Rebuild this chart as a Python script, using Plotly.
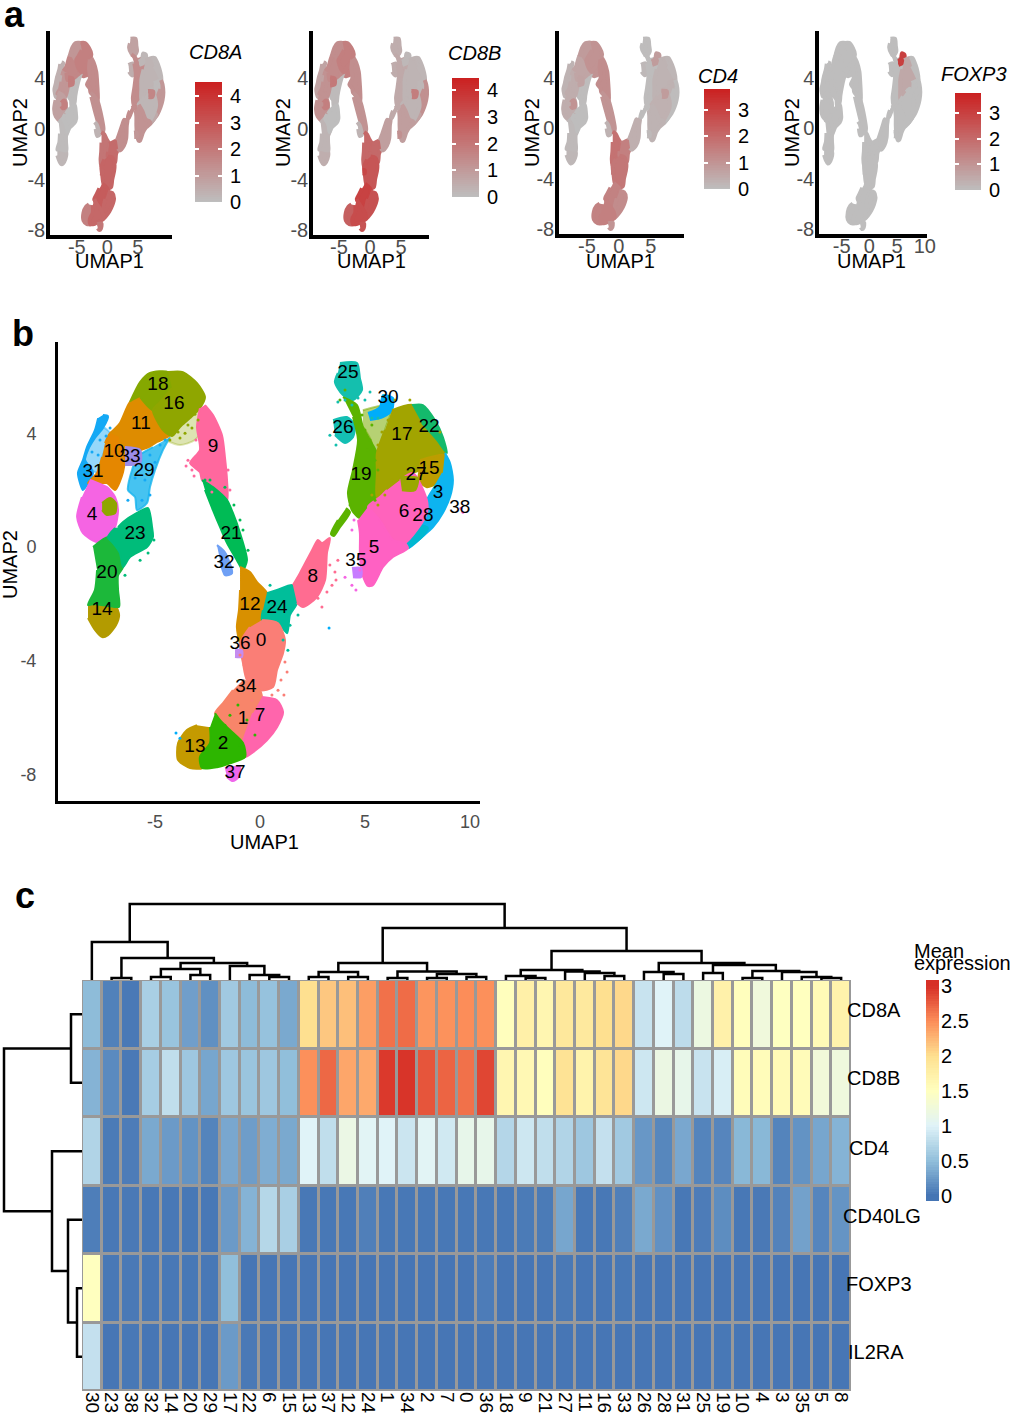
#!/usr/bin/env python
# -*- coding: utf-8 -*-

"""T cell clusters: feature plots, cluster map and mean expression heatmap."""

import numpy as np
import plotly.graph_objects as go

W = 1014
H = 1415
FONT = "Liberation Sans"
TICK_GREY = "#4D4D4D"

# heatmap
col_labels = ["30", "23", "38", "32", "14", "20", "29", "17", "22", "6", "15", "13", "37",
              "12", "24", "1", "34", "2", "7", "0", "36", "18", "9", "21", "27", "11", "16",
              "33", "26", "28", "31", "25", "19", "10", "4", "3", "35", "5", "8"]
row_labels = ["CD8A", "CD8B", "CD4", "CD40LG", "FOXP3", "IL2RA"]
cd8a = [0.48, 0.08, 0.03, 0.65, 0.55, 0.28, 0.18, 0.60, 0.48, 0.53, 0.35, 2.00, 2.15,
        2.20, 2.40, 2.65, 2.68, 2.45, 2.47, 2.50, 2.48, 1.52, 1.75, 1.65, 1.87, 1.85, 2.00,
        2.05, 0.85, 1.00, 0.78, 1.20, 1.72, 1.52, 1.25, 1.48, 1.50, 1.58, 1.70]
cd8b = [0.42, 0.14, 0.03, 0.63, 0.80, 0.58, 0.33, 0.58, 0.56, 0.58, 0.50, 2.48, 2.70,
        2.35, 2.33, 2.95, 2.98, 2.80, 2.72, 2.65, 2.88, 1.65, 1.62, 1.52, 1.95, 1.70, 1.93,
        2.05, 0.88, 1.18, 1.12, 0.85, 0.95, 1.55, 1.55, 1.58, 1.56, 1.27, 1.24]
cd4 = [0.70, 0.04, 0.05, 0.35, 0.25, 0.20, 0.10, 0.34, 0.27, 0.38, 0.35, 1.00, 0.80,
       1.17, 1.03, 1.00, 0.87, 1.03, 0.90, 1.12, 1.12, 0.72, 0.88, 0.80, 0.70, 0.58, 0.82,
       0.60, 0.23, 0.12, 0.34, 0.10, 0.11, 0.45, 0.45, 0.10, 0.20, 0.33, 0.42]
cd40lg = [0.06, 0.02, 0.03, 0.02, 0.02, 0.02, 0.02, 0.25, 0.42, 0.73, 0.65, 0.02, 0.02,
          0.02, 0.07, 0.02, 0.02, 0.02, 0.02, 0.02, 0.02, 0.02, 0.04, 0.04, 0.33, 0.02, 0.02,
          0.07, 0.35, 0.19, 0.02, 0.05, 0.16, 0.02, 0.03, 0.09, 0.30, 0.11, 0.21]
foxp3 = [1.50, 0.02, 0.03, 0.02, 0.02, 0.02, 0.02, 0.50, 0.01, 0.01, 0.01, 0.01, 0.01,
         0.01, 0.01, 0.01, 0.01, 0.01, 0.01, 0.01, 0.05, 0.01, 0.01, 0.01, 0.03, 0.01, 0.01,
         0.02, 0.01, 0.01, 0.01, 0.01, 0.01, 0.01, 0.01, 0.01, 0.01, 0.01, 0.01]
il2ra = [0.82, 0.01, 0.02, 0.01, 0.01, 0.01, 0.01, 0.25, 0.03, 0.01, 0.01, 0.01, 0.01,
         0.01, 0.01, 0.01, 0.01, 0.01, 0.01, 0.01, 0.01, 0.01, 0.01, 0.01, 0.01, 0.01, 0.01,
         0.01, 0.01, 0.01, 0.01, 0.01, 0.02, 0.01, 0.01, 0.01, 0.01, 0.01, 0.01]
heat_scale = [[0, "#4575B4"], [1 / 6, "#91BFDB"], [2 / 6, "#E0F3F8"], [3 / 6, "#FFFFBF"],
              [4 / 6, "#FEE090"], [5 / 6, "#FC8D59"], [1, "#D73027"]]

# dendrograms, hclust style: negative = leaf number, positive = earlier merge
col_left = [-2, -4, -6, 2, -10, -9, -8, 4, 1, -1, -12, -14, 11, -16, -18, -20, 15, 14, 13,
            -23, -22, -27, -26, -25, 21, -30, -29, -32, -34, -38, -37, -36, 29, 28, 27, 25, 19, 10]
col_right = [-3, -5, -7, 3, -11, 5, 6, 7, 8, 9, -13, -15, 12, -17, -19, -21, 16, 17, 18,
             -24, 20, -28, 22, 23, 24, -31, 26, -33, -35, -39, 30, 31, 32, 33, 34, 35, 36, 37]
col_height = [2, 3, 5, 11, 3, 5, 14, 17, 22, 38, 3, 3, 8, 2, 2, 3, 6, 8.5, 17,
              2, 4, 4, 7, 8.5, 10, 6, 8, 7, 2, 2, 3, 8, 9, 15, 17, 29, 52, 76]
row_left = [-5, -4, -3, -1, 4]
row_right = [-6, 1, 2, -2, 3]
row_height = [5, 14, 30, 11, 78]

# UMAP outlines of the clusters
c31_x = [-7.48, -7.24, -7.48, -7.86, -8.19, -8.33, -8.10, -7.95, -8.43, -8.57, -8.67, -8.43, -8.24, -7.86, -7.71]
c31_y = [4.65, 4.61, 4.19, 3.84, 3.42, 3.06, 2.82, 2.61, 2.01, 2.25, 2.61, 3.06, 3.52, 4.12, 4.54]
gap31_x = [-7.62, -7.14, -7.52, -7.76, -8.33, -7.86]
gap31_y = [4.30, 4.01, 3.17, 2.61, 3.06, 3.94]
c10_x = [-7.38, -7.14, -6.67, -6.43, -6.52, -6.90, -7.29, -8.19, -7.76, -7.52]
c10_y = [3.66, 4.01, 4.12, 3.31, 2.64, 2.01, 2.25, 2.25, 2.61, 3.17]
c11_x = [-7.14, -6.67, -6.19, -5.71, -5.10, -4.62, -4.29, -4.90, -5.38, -6.52, -6.67]
c11_y = [4.01, 4.37, 5.11, 5.28, 4.82, 4.12, 3.94, 3.70, 3.49, 3.31, 3.87]
c18_x = [-6.19, -5.71, -5.24, -4.38, -4.19, -4.76, -5.10, -5.71]
c18_y = [5.11, 5.81, 6.13, 6.16, 5.60, 5.11, 4.82, 5.28]
c16_x = [-4.38, -3.67, -3.00, -2.62, -2.86, -3.33, -3.81, -4.19, -4.62, -5.10, -4.76, -4.19]
c16_y = [6.16, 6.16, 5.77, 5.28, 4.89, 4.54, 4.23, 3.91, 4.12, 4.82, 5.11, 5.60]
gap16_x = [-4.19, -2.86, -2.62, -3.10, -3.81, -4.52]
gap16_y = [3.91, 4.89, 4.30, 3.77, 3.59, 3.77]
c29_x = [-4.29, -4.62, -5.00, -5.24, -5.38, -5.86, -5.95, -6.29, -6.05, -5.86, -5.10]
c29_y = [3.87, 3.42, 2.71, 2.11, 1.55, 1.30, 1.76, 2.01, 2.82, 3.17, 3.52]
c33_x = [-6.43, -5.71, -5.71, -6.43]
c33_y = [3.52, 3.42, 2.96, 2.89]
c4_x = [-8.10, -7.71, -7.29, -6.90, -6.76, -6.90, -7.24, -7.76, -8.43, -8.71, -8.48]
c4_y = [2.36, 2.25, 2.11, 1.76, 1.30, 0.70, 0.35, 0.18, 0.49, 1.06, 1.76]
c4patch_x = [-7.52, -7.14, -6.86, -6.90, -7.29, -7.52]
c4patch_y = [1.55, 1.73, 1.55, 1.20, 1.13, 1.30]
c23_x = [-6.76, -6.52, -5.86, -5.33, -5.14, -5.10, -5.38, -6.19, -6.52, -6.67, -7.00, -7.24, -6.90]
c23_y = [0.70, 0.88, 1.20, 1.37, 0.70, 0.35, 0.00, -0.35, -0.70, -0.21, 0.14, 0.35, 0.67]
c14_x = [-8.19, -7.71, -6.90, -6.71, -6.86, -7.24, -7.52, -7.86, -8.19]
c14_y = [-2.04, -1.87, -2.04, -2.39, -2.75, -3.10, -3.17, -2.92, -2.50]
c20_x = [-7.95, -7.24, -7.00, -6.67, -6.52, -6.76, -6.76, -6.71, -7.00, -7.90, -8.19, -7.86, -7.76]
c20_y = [0.00, 0.35, 0.14, -0.21, -0.70, -0.99, -1.51, -2.10, -2.10, -2.00, -2.04, -1.51, -0.81]
c9_x = [-2.62, -2.24, -1.81, -1.67, -1.57, -1.57, -2.24, -2.76, -2.86, -3.33, -2.86, -3.00, -2.86]
c9_y = [5.00, 4.65, 3.94, 3.17, 2.36, 1.65, 2.11, 2.36, 2.64, 2.96, 3.42, 4.23, 4.89]
c21_x = [-2.76, -2.24, -1.57, -1.29, -0.95, -0.62, -0.81, -1.10, -1.57, -1.90, -2.24, -2.62]
c21_y = [2.36, 2.11, 1.65, 1.20, 0.49, -0.46, -0.81, -0.46, 0.14, 0.70, 1.30, 2.01]
c32_x = [-2.05, -1.67, -1.33, -1.67, -1.90]
c32_y = [0.07, -0.18, -0.92, -0.99, -0.46]
c12_x = [-0.95, -0.48, -0.14, 0.33, 0.14, 0.10, -0.48, -0.81, -0.95, -1.10, -1.00, -0.95]
c12_y = [-0.70, -0.88, -1.23, -1.62, -2.22, -2.57, -2.82, -3.17, -3.38, -2.82, -2.22, -1.51]
c24_x = [0.33, 0.81, 1.57, 1.76, 1.43, 1.29, 0.86, 0.10, 0.14]
c24_y = [-1.62, -1.51, -1.34, -1.97, -2.39, -3.03, -2.68, -2.57, -2.22]
c8_x = [1.57, 1.90, 2.48, 2.76, 2.95, 3.33, 3.19, 3.10, 2.71, 2.05, 1.76]
c8_y = [-1.34, -0.92, -0.11, 0.25, 0.14, 0.32, -0.21, -1.16, -1.76, -2.11, -1.97]
c0_x = [0.10, 0.86, 1.19, 1.10, 0.81, 0.62, 0.00, -0.62, -0.81, -0.95, -0.48]
c0_y = [-2.57, -2.68, -3.27, -3.73, -4.33, -4.93, -5.04, -4.68, -4.08, -3.38, -2.82]
c36_x = [-1.19, -0.86, -0.86, -1.19]
c36_y = [-3.63, -3.63, -3.87, -3.87]
c1_x = [-0.81, 0.00, 0.10, -0.33, -0.62, -0.81, -1.43, -1.90, -2.14, -1.76, -1.29]
c1_y = [-4.68, -5.04, -5.39, -5.85, -6.44, -6.90, -6.44, -6.09, -5.85, -5.49, -5.04]
c7_x = [0.10, 0.81, 1.10, 0.81, 0.33, -0.33, -0.71, -0.81, -0.62, -0.33]
c7_y = [-5.28, -5.39, -5.81, -6.34, -6.80, -7.22, -7.39, -6.90, -6.44, -5.85]
c2_x = [-2.14, -1.90, -1.43, -0.81, -0.71, -1.43, -2.05, -2.76, -2.86, -2.38, -2.38]
c2_y = [-5.85, -6.09, -6.44, -6.90, -7.39, -7.61, -7.75, -7.78, -7.39, -6.90, -6.34]
c13_x = [-2.38, -2.38, -2.86, -2.76, -3.33, -3.90, -3.90, -3.48, -3.00]
c13_y = [-6.34, -6.90, -7.39, -7.78, -7.78, -7.50, -6.90, -6.44, -6.27]
c37_x = [-1.67, -0.95, -1.05, -1.29, -1.57]
c37_y = [-7.78, -7.75, -8.13, -8.24, -8.10]
c25_x = [3.81, 4.62, 4.76, 4.86, 4.43, 3.95, 3.57, 3.71]
c25_y = [6.48, 6.48, 5.95, 5.53, 5.18, 5.35, 5.81, 6.13]
c26_x = [3.48, 4.14, 4.52, 4.43, 4.05, 3.57]
c26_y = [4.47, 4.58, 4.30, 3.87, 3.66, 3.94]
c30_x = [5.14, 5.71, 5.86, 6.33, 6.29, 5.86, 5.24]
c30_y = [4.72, 4.93, 5.35, 5.25, 4.82, 4.58, 4.47]
gap19_x = [4.90, 6.29, 5.95, 5.62, 5.57, 5.14, 5.33, 4.90]
gap19_y = [4.82, 5.00, 4.12, 3.24, 1.76, 1.41, 3.66, 4.23]
c19_x = [3.95, 4.62, 4.90, 5.33, 5.57, 5.71, 5.71, 5.14, 4.76, 4.38, 4.19, 4.43, 4.67, 4.43]
c19_y = [5.28, 5.00, 4.23, 3.66, 3.31, 2.61, 1.76, 1.41, 1.02, 1.30, 1.90, 2.71, 3.77, 4.58]
c19tail_x = [4.10, 4.29, 3.81, 3.52, 3.38, 3.71]
c19tail_y = [1.37, 1.23, 0.70, 0.39, 0.46, 0.95]
c17_x = [6.29, 7.29, 7.71, 8.43, 8.81, 7.95, 7.29, 6.67, 6.05, 5.57, 5.57, 5.57, 5.95]
c17_y = [4.82, 5.00, 4.37, 3.77, 3.31, 2.82, 2.61, 2.36, 2.01, 1.76, 2.61, 3.31, 4.12]
c22_x = [7.24, 7.76, 8.33, 8.71, 8.90, 8.43, 7.71]
c22_y = [5.00, 5.00, 4.47, 3.87, 3.31, 3.77, 4.37]
c15_x = [7.62, 8.81, 8.71, 8.43, 7.95, 7.48]
c15_y = [3.06, 3.24, 2.61, 2.25, 2.11, 2.36]
c27_x = [6.67, 7.52, 7.38, 6.76]
c27_y = [2.46, 2.43, 2.00, 2.00]
c3_x = [8.81, 9.05, 9.19, 9.05, 8.71, 8.24, 7.71, 7.05, 6.90, 7.48, 7.95, 7.95, 8.43, 8.71]
c3_y = [3.31, 2.96, 2.36, 1.76, 1.20, 0.70, 0.35, -0.04, 0.14, 0.60, 1.20, 1.65, 2.25, 2.61]
c28_x = [7.05, 7.71, 8.00, 7.62, 6.90]
c28_y = [-0.04, 0.35, 0.67, 0.77, 0.42]
c6_x = [6.67, 7.29, 7.95, 7.95, 7.48, 6.90, 6.33, 5.71, 5.14, 5.71, 6.05]
c6_y = [2.36, 2.61, 1.65, 1.20, 0.60, 0.14, 0.25, 0.95, 1.41, 1.76, 2.01]
c5_x = [5.14, 5.71, 6.33, 6.90, 7.05, 6.33, 5.86, 5.38, 5.14, 4.86, 4.76, 4.76, 4.67]
c5_y = [1.41, 0.95, 0.25, 0.14, -0.04, -0.35, -0.70, -1.34, -1.37, -0.92, -0.21, 0.49, 0.95]
c35_x = [4.38, 4.81, 4.81, 4.43]
c35_y = [-0.74, -0.74, -1.06, -1.06]

# cluster number, outline, colour, back to front; gap outlines are the thinly covered parts
clusters = [
    ("31", gap31_x, gap31_y, "rgba(20,169,245,0.45)"), ("16", gap16_x, gap16_y, "rgba(143,166,0,0.3)"),
    ("19", gap19_x, gap19_y, "rgba(122,172,0,0.55)"),
    ("31", c31_x, c31_y, "#14A9F5"), ("29", c29_x, c29_y, "rgba(24,180,238,0.8)"), ("10", c10_x, c10_y, "#E58700"),
    ("11", c11_x, c11_y, "#DE8C00"), ("33", c33_x, c33_y, "#9C8CE8"), ("18", c18_x, c18_y, "#85A800"),
    ("16", c16_x, c16_y, "#8FA600"), ("4", c4_x, c4_y, "#F564E3"), ("16", c4patch_x, c4patch_y, "#8FA600"),
    ("14", c14_x, c14_y, "#B39B00"), ("20", c20_x, c20_y, "#1CB83A"), ("23", c23_x, c23_y, "#00BC7A"),
    ("9", c9_x, c9_y, "#FF689E"), ("21", c21_x, c21_y, "#00BB55"), ("32", c32_x, c32_y, "#6FA0F5"),
    ("12", c12_x, c12_y, "#D89000"), ("24", c24_x, c24_y, "#00BE9A"), ("8", c8_x, c8_y, "#FF6C91"),
    ("0", c0_x, c0_y, "#FA7E76"), ("36", c36_x, c36_y, "#C58CF0"), ("1", c1_x, c1_y, "#F8856A"),
    ("7", c7_x, c7_y, "#FF65AC"), ("13", c13_x, c13_y, "#C49A00"), ("2", c2_x, c2_y, "#2DB600"),
    ("37", c37_x, c37_y, "#EF67EB"), ("25", c25_x, c25_y, "#14BFAE"), ("26", c26_x, c26_y, "#14BFB4"),
    ("30", c30_x, c30_y, "#00ADFA"), ("19", c19_x, c19_y, "#5BB300"), ("19", c19tail_x, c19tail_y, "#5BB300"),
    ("17", c17_x, c17_y, "#A2A400"), ("22", c22_x, c22_y, "#14BA6C"), ("15", c15_x, c15_y, "#BC9D00"),
    ("3", c3_x, c3_y, "#0DB4F0"), ("28", c28_x, c28_y, "#00B8D0"), ("6", c6_x, c6_y, "#FF63BC"),
    ("27", c27_x, c27_y, "#9AA800"), ("5", c5_x, c5_y, "#FF61C3"), ("35", c35_x, c35_y, "#C77CFF"),
]

# loose cells around the clusters in panel b
sky_x = [-7.62, -7.33, -8.00, -7.71, -7.14, -5.24, -4.76, -5.48, -5.95, -6.29, -5.62, -5.24, -4.52, -5.00]
sky_y = [3.77, 3.91, 3.35, 3.24, 4.19, 3.24, 3.59, 2.36, 2.43, 1.65, 1.65, 1.83, 3.77, 2.99]
olive16_x = [-3.90, -3.57, -3.24, -4.29, -2.95, -3.43, -3.81, -3.10]
olive16_y = [4.05, 4.01, 4.19, 3.77, 4.47, 4.30, 3.84, 4.68]
pink9_x = [-3.43, -3.24, -3.05, -3.52, -3.14, -2.62, -2.29, -1.52, -1.43, -3.05]
pink9_y = [3.06, 2.71, 3.13, 2.85, 2.50, 2.43, 1.94, 2.71, 2.01, 3.77]
green21_x = [-2.62, -2.38, -1.67, -1.24, -0.95, -0.81, -2.14, -1.81, -0.57]
green21_y = [2.36, 2.36, 2.11, 1.48, 0.95, 0.60, 1.48, 0.95, -0.11]
green19_x = [5.00, 5.24, 5.14, 5.33, 5.48, 4.86, 4.05, 3.81, 5.62, 4.29, 5.48]
green19_y = [4.12, 3.77, 3.42, 4.30, 3.06, 4.65, 5.53, 5.18, 2.71, 1.48, 1.65]
olive17_x = [5.81, 6.10, 5.62, 5.95, 5.62, 5.33, 6.29, 7.14, 8.57, 6.43]
olive17_y = [4.05, 4.47, 3.59, 1.83, 1.48, 1.83, 2.36, 5.18, 4.05, 5.18]
teal25_x = [4.05, 4.38, 4.67, 3.71, 5.00, 5.24, 3.33, 3.62, 5.33, 5.62]
teal25_y = [5.18, 5.00, 5.25, 5.11, 5.18, 5.46, 3.94, 3.59, 4.54, 4.54]
salmon0_x = [1.19, 1.29, 1.00, 0.86, 1.14, 0.57, -0.48, -0.38, -0.76, -0.95]
salmon0_y = [-4.05, -4.40, -4.68, -5.04, -5.21, -5.21, -5.04, -5.39, -4.15, -3.80]
pink8_x = [3.33, 3.57, 3.43, 3.19, 3.71, 2.76, 2.95, 3.62]
pink8_y = [-0.63, -0.88, -1.34, -1.58, -0.46, -1.80, -2.11, -1.16]
pink5_x = [4.76, 4.38, 4.05, 4.57, 4.48, 4.38]
pink5_y = [-0.81, -1.34, -1.06, -1.51, 0.95, 0.60]
teal24_x = [1.10, 1.33, 1.43, 1.81, 1.10, 0.48]
teal24_y = [-3.27, -3.63, -2.75, -2.39, -1.51, -1.34]
teal23_x = [-5.05, -5.33, -5.71, -6.43]
teal23_y = [0.25, -0.21, -0.46, -0.99]
green2_x = [-1.43, -1.05, -1.67, -0.62, -0.24, -0.95]
green2_y = [-5.92, -5.56, -6.27, -6.09, -6.62, -6.97]
azure_x = [3.29, -4.00, -3.81]
azure_y = [-2.85, -6.55, -6.73]
magenta38_x = [9.57, 9.67]
magenta38_y = [1.37, 1.23]

loose_cells = [
    (sky_x, sky_y, "#14A9F5"), (olive16_x, olive16_y, "#8FA600"), (pink9_x, pink9_y, "#FF689E"),
    (green21_x, green21_y, "#00BB55"), (green19_x, green19_y, "#5BB300"), (olive17_x, olive17_y, "#A2A400"),
    (teal25_x, teal25_y, "#14BFAE"), (salmon0_x, salmon0_y, "#FA7E76"), (pink8_x, pink8_y, "#FF6C91"),
    (pink5_x, pink5_y, "#F564E3"), (teal24_x, teal24_y, "#00BE9A"), (teal23_x, teal23_y, "#00BC7A"),
    (green2_x, green2_y, "#2DB600"), (azure_x, azure_y, "#00ADFA"), (magenta38_x, magenta38_y, "#F564E3"),
]

# where the cluster numbers sit in panel b
label_text = ["25", "30", "26", "17", "22", "19", "27", "15", "3", "38", "6", "28", "5", "35", "8",
              "18", "16", "11", "10", "33", "29", "31", "9", "4", "23", "21", "32", "20", "14",
              "12", "24", "0", "36", "34", "1", "7", "13", "2", "37"]
label_x = [4.19, 6.10, 3.95, 6.76, 8.05, 4.81, 7.43, 8.05, 8.48, 9.52, 6.86, 7.76, 5.43, 4.57, 2.52,
           -4.86, -4.10, -5.67, -6.95, -6.19, -5.52, -7.95, -2.24, -8.00, -5.95, -1.38, -1.71, -7.29, -7.52,
           -0.48, 0.81, 0.05, -0.95, -0.67, -0.81, 0.00, -3.10, -1.76, -1.19]
label_y = [6.13, 5.25, 4.19, 3.94, 4.22, 2.54, 2.54, 2.75, 1.90, 1.37, 1.23, 1.09, -0.04, -0.49, -1.06,
           5.70, 5.04, 4.33, 3.35, 3.17, 2.68, 2.64, 3.51, 1.13, 0.46, 0.46, -0.56, -0.92, -2.22,
           -2.04, -2.15, -3.31, -3.42, -4.93, -6.06, -5.95, -7.04, -6.94, -7.96]

fig = go.Figure()
axis_count = 1


def new_axes(left, right, top, bottom, xaxis, yaxis):
    # left/right/top/bottom are page pixels
    global axis_count
    axis_count += 1
    n = axis_count
    base = dict(showgrid=False, zeroline=False, showline=False, showticklabels=False, ticks="", automargin=False)
    fig.update_layout(**{
        f"xaxis{n}": {**base, "domain": [left / W, right / W], "anchor": f"y{n}", **xaxis},
        f"yaxis{n}": {**base, "domain": [1 - bottom / H, 1 - top / H], "anchor": f"x{n}", **yaxis},
    })
    return f"x{n}", f"y{n}"


def note(text, x, y, size=20, color="black", **kw):
    kw.setdefault("xanchor", "center")
    kw.setdefault("yanchor", "middle")
    fig.add_annotation(text=text, x=x / W, y=1 - y / H, xref="paper", yref="paper", showarrow=False,
                       font=dict(family=FONT, size=size, color=color), **kw)


def draw_clusters(xref, yref, colors, width):
    for (_, xs, ys, _), color in zip(clusters, colors):
        fig.add_trace(go.Scatter(x=xs, y=ys, mode="lines", fill="toself", fillcolor=color,
                                 line=dict(color=color, width=width, shape="spline", smoothing=0.7),
                                 hoverinfo="skip", showlegend=False, xaxis=xref, yaxis=yref))


def mix_grey_red(frac):
    rgb = [190 + (203 - 190) * frac, 190 + (32 - 190) * frac, 190 + (32 - 190) * frac]
    return "rgb(%d,%d,%d)" % tuple(rgb)


def feature_panel(gene, values, top_mean, peak, axis_px, x_range, x_ticks, x_mid, y_mid,
                  bar_px, bar_top, bar_ticks, title_px):
    left, right, top, bottom = axis_px
    line = dict(showline=True, linecolor="black", linewidth=3.5, showticklabels=True,
                tickfont=dict(family=FONT, size=20, color=TICK_GREY))
    xref, yref = new_axes(left, right, top, bottom,
                          dict(line, range=x_range, tickvals=x_ticks, ticktext=[str(t) for t in x_ticks],
                               ticklabelstandoff=-9),
                          dict(line, range=[-8.62, 7.08], tickvals=[3.46, -0.46, -4.38, -8.23],
                               ticktext=["4", "0", "-4", "-8"], ticklabelstandoff=-3))
    by_cluster = dict(zip(col_labels, values))
    colors = [mix_grey_red(peak * min(1.0, by_cluster[c[0]] / top_mean) ** 1.6) for c in clusters]
    draw_clusters(xref, yref, colors, 4)
    note("UMAP1", x_mid, 261)
    note("UMAP2", y_mid, 133, textangle=-90)
    note(f"<i>{gene}</i>", title_px[0], title_px[1])
    # colour bar with white ticks on both edges
    bl, br, bt, bb = bar_px
    level = np.linspace(0, bar_top, 60)
    tick_axis = dict(showticklabels=True, side="right", ticks="inside", ticklen=4, tickcolor="white", tickwidth=1.5,
                     mirror="ticks", showline=True, linecolor="rgba(0,0,0,0)", ticklabelstandoff=3,
                     range=[0, bar_top], tickvals=bar_ticks, tickfont=dict(family=FONT, size=20, color="black"))
    xb, yb = new_axes(bl, br, bt, bb, dict(range=[-0.5, 0.5]), tick_axis)
    fig.add_trace(go.Heatmap(x=[0], y=level, z=[[v] for v in level], zmin=0, zmax=bar_top, showscale=False,
                             colorscale=[[0, "#BEBEBE"], [1, "#CB2020"]], hoverinfo="skip", xaxis=xb, yaxis=yb))


def dendro_lines(left, right, height):
    # returns positions along the leaves and heights as None separated polylines
    pos = []
    hs = []
    node_pos = []
    node_h = []
    for a, b, h in zip(left, right, height):
        pa = -a - 1 if a < 0 else node_pos[a - 1]
        pb = -b - 1 if b < 0 else node_pos[b - 1]
        ha = 0 if a < 0 else node_h[a - 1]
        hb = 0 if b < 0 else node_h[b - 1]
        pos += [pa, pa, pb, pb, None]
        hs += [ha, h, h, hb, None]
        node_pos.append((pa + pb) / 2)
        node_h.append(h)
    return pos, hs


# panel a
feature_panel("CD8A", cd8a, 3.0, 0.75, (50, 172, 31, 235), [-9.39, 10.6], [-5, 0, 5], 109, 20,
              (195, 222, 82, 202), 4.53, [0, 1, 2, 3, 4], (215, 52))
feature_panel("CD8B", cd8b, 3.0, 0.80, (313, 429, 31, 235), [-9.19, 9.5], [-5, 0, 5], 371, 283,
              (452, 479, 78, 197), 4.45, [0, 1, 2, 3, 4], (474, 53))
feature_panel("CD4", cd4, 1.2, 0.50, (559, 684, 31, 234), [-9.36, 10.2], [-5, 0, 5], 620, 532,
              (704, 730, 89, 189), 3.8, [0, 1, 2, 3], (718, 76))
feature_panel("FOXP3", foxp3, 1.5, 0.80, (819, 927, 31, 234), [-9.11, 10.4], [-5, 0, 5, 10], 871, 792,
              (955, 981, 93, 190), 3.77, [0, 1, 2, 3], (974, 74))

# panel b
grey_ticks = dict(showline=True, linecolor="black", linewidth=3, showticklabels=True,
                  tickfont=dict(family=FONT, size=18, color=TICK_GREY))
xb_map, yb_map = new_axes(58, 480, 342, 801,
                          dict(grey_ticks, range=[-9.62, 10.48], tickvals=[-5, 0, 5, 10],
                               ticktext=["-5", "0", "5", "10"], ticklabelstandoff=2),
                          dict(grey_ticks, range=[-8.94, 7.22], tickvals=[-8, -4, 0, 4],
                               ticktext=["-8", "-4", "0", "4"], ticklabelstandoff=15))
draw_clusters(xb_map, yb_map, [c[3] for c in clusters], 2)
for xs, ys, color in loose_cells:
    fig.add_trace(go.Scatter(x=xs, y=ys, mode="markers", marker=dict(color=color, size=3), hoverinfo="skip",
                             showlegend=False, xaxis=xb_map, yaxis=yb_map))
fig.add_trace(go.Scatter(x=label_x, y=label_y, text=label_text, mode="text", hoverinfo="skip", showlegend=False,
                         textfont=dict(family=FONT, size=19, color="black"), xaxis=xb_map, yaxis=yb_map))
note("UMAP1", 264, 842)
note("UMAP2", 10, 565, textangle=-90)

# panel c
xh, yh = new_axes(82, 851, 980, 1391,
                  dict(range=[-0.5, 38.5], tickmode="array", tickvals=list(range(39)), ticktext=col_labels,
                       showticklabels=True, tickangle=90, tickfont=dict(family=FONT, size=19, color="black"),
                       ticklabelstandoff=0),
                  dict(range=[5.5, -0.5]))
fig.add_shape(type="rect", xref=xh, yref=yh, x0=-0.5, x1=38.5, y0=-0.5, y1=5.5, layer="below",
              fillcolor="#999999", line=dict(color="#999999", width=3))
fig.add_trace(go.Heatmap(z=[cd8a, cd8b, cd4, cd40lg, foxp3, il2ra], x=list(range(39)), y=list(range(6)),
                         zmin=0, zmax=3, colorscale=heat_scale, showscale=False, xgap=3, ygap=3,
                         hoverinfo="skip", xaxis=xh, yaxis=yh))

xc, yc = new_axes(82, 851, 900, 980, dict(range=[-0.5, 38.5]), dict(range=[0, 80]))
px_col, h_col = dendro_lines(col_left, col_right, col_height)
fig.add_trace(go.Scatter(x=px_col, y=h_col, mode="lines", line=dict(color="black", width=2.5), hoverinfo="skip",
                         showlegend=False, xaxis=xc, yaxis=yc))
xr, yr = new_axes(0, 82, 980, 1391, dict(range=[82, 0]), dict(range=[5.5, -0.5]))
px_row, h_row = dendro_lines(row_left, row_right, row_height)
fig.add_trace(go.Scatter(x=h_row, y=px_row, mode="lines", line=dict(color="black", width=2.5), hoverinfo="skip",
                         showlegend=False, xaxis=xr, yaxis=yr))

for name, lx, ly in zip(row_labels, [845, 845, 847, 841, 844, 846], [1010, 1078, 1148, 1216, 1284, 1352]):
    note(name, lx, ly, xanchor="left")

# heatmap legend
level = np.linspace(-0.07, 3.09, 90)
xl, yl = new_axes(926, 939, 980, 1201, dict(range=[-0.5, 0.5]),
                  dict(range=[-0.07, 3.09], showticklabels=True, side="right", tickvals=[0, 0.5, 1, 1.5, 2, 2.5, 3],
                       ticktext=["0", "0.5", "1", "1.5", "2", "2.5", "3"], ticklabelstandoff=1,
                       tickfont=dict(family=FONT, size=20, color="black")))
fig.add_trace(go.Heatmap(x=[0], y=level, z=[[v] for v in level], zmin=0, zmax=3, colorscale=heat_scale,
                         showscale=False, hoverinfo="skip", xaxis=xl, yaxis=yl))
note("Mean", 912, 951, xanchor="left")
note("expression", 912, 963, xanchor="left")

# panel letters
note("<b>a</b>", 14, 15, size=36)
note("<b>b</b>", 23, 333, size=36)
note("<b>c</b>", 25, 895, size=36)

fig.update_layout(width=W, height=H, margin=dict(l=0, r=0, t=0, b=0), paper_bgcolor="white",
                  plot_bgcolor="white", showlegend=False, font=dict(family=FONT))

# the page body would otherwise push the figure 8px in
fig.write_html("out.html", config={"displayModeBar": False}, post_script="document.body.style.margin='0';")
